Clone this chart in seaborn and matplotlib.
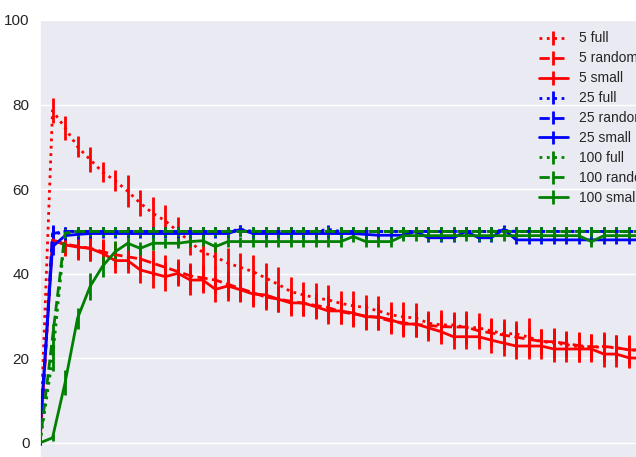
import matplotlib
matplotlib.use('Agg')
import matplotlib.pyplot as plt
import seaborn as sns

# x positions (steps)
steps = list(range(49))

# 5 : red
full_5 = [0, 78.6, 74.5, 70.0, 67.0, 64.0, 62.0, 59.5, 56.7, 54.3, 52.5, 50.0, 47.5, 45.0, 44.0, 42.5,
          41.5, 40.5, 39.0, 37.5, 35.8, 35.0, 34.3, 33.8, 33.0, 32.4, 32.0, 31.2, 30.3, 29.8, 29.5, 28.3,
          27.9, 27.9, 27.3, 27.2, 26.5, 25.8, 25.8, 25.0, 24.0, 23.6, 23.2, 22.7, 22.7, 22.6, 22.5, 22.0, 21.8]
full_5_err = [0, 3.0, 2.9, 2.5, 2.9, 2.4, 2.5, 3.8, 3.0, 3.8, 3.8, 3.5, 3.0, 3.5, 3.0, 3.5,
              3.5, 4.0, 3.5, 4.0, 3.5, 3.0, 3.5, 3.5, 3.0, 3.5, 3.0, 3.5, 3.0, 3.5, 3.5, 3.0,
              3.5, 3.0, 4.0, 3.5, 3.0, 3.5, 3.0, 4.5, 3.0, 3.5, 3.0, 3.5, 3.0, 3.5, 3.0, 3.5, 3.0]
random_5 = [0, 48.0, 47.0, 46.5, 46.0, 45.2, 44.5, 44.0, 43.5, 42.5, 41.5, 40.5, 39.5, 39.0, 38.5, 37.5,
            36.5, 35.5, 34.5, 34.0, 33.5, 33.0, 32.5, 32.0, 31.0, 30.5, 30.0, 29.6, 28.8, 28.4, 28.0, 27.8,
            27.5, 27.4, 27.4, 26.5, 26.0, 25.5, 25.0, 24.5, 24.0, 23.9, 23.5, 23.0, 22.7, 22.8, 22.5, 22.0, 22.0]
random_5_err = [0, 2.5, 2.5, 3.0, 3.0, 3.0, 3.0, 3.0, 3.0, 3.0, 3.0, 3.0, 3.0, 3.0, 3.0, 3.0,
                3.0, 3.0, 3.0, 3.0, 3.0, 3.0, 3.0, 3.0, 3.0, 3.0, 3.0, 3.0, 3.0, 3.0, 3.0, 3.0,
                3.0, 3.0, 3.0, 3.0, 3.0, 3.0, 3.0, 3.0, 3.0, 3.0, 3.0, 3.0, 3.0, 3.0, 3.0, 3.0, 3.0]
small_5 = [0, 48.0, 46.8, 46.3, 46.0, 44.8, 43.1, 43.1, 40.9, 40.1, 39.3, 40.1, 38.5, 38.5, 36.3, 37.1,
           36.2, 35.2, 35.0, 34.0, 33.1, 33.1, 32.2, 31.2, 31.2, 30.7, 29.8, 29.8, 29.1, 28.1, 28.1, 27.2,
           26.3, 25.1, 25.1, 25.1, 24.3, 23.6, 22.9, 22.9, 22.9, 22.2, 22.2, 22.2, 22.2, 21.0, 21.0, 20.1, 20.0]
small_5_err = [0, 2.0, 2.5, 3.0, 3.0, 3.0, 3.0, 3.0, 3.2, 3.5, 3.5, 3.0, 3.5, 3.0, 3.0, 3.5,
               3.0, 3.0, 3.0, 3.0, 3.0, 3.0, 3.0, 3.0, 3.0, 3.0, 3.0, 3.0, 3.0, 3.0, 3.0, 3.0,
               3.0, 3.0, 3.0, 3.0, 3.0, 3.0, 3.0, 3.0, 3.0, 3.0, 3.0, 3.0, 3.0, 3.0, 3.0, 2.5, 2.5]

# 25 : blue
full_25 = [0, 49.2, 50.0, 50.0, 50.0, 50.0, 50.0, 50.0, 50.0, 50.0, 50.0, 50.0, 50.0, 50.0, 50.0, 50.0,
           50.5, 50.0, 50.0, 50.0, 50.0, 50.0, 50.0, 50.5, 50.0, 50.0, 50.0, 50.0, 50.0, 50.0, 50.0, 50.0,
           50.0, 50.0, 50.0, 50.0, 50.0, 50.3, 50.0, 50.0, 50.0, 50.0, 50.0, 50.0, 50.0, 50.0, 50.0, 50.0, 50.0]
random_25 = [0, 49.5, 50.0, 50.0, 50.0, 50.0, 50.0, 50.0, 50.0, 50.0, 50.0, 50.0, 50.0, 50.0, 50.0, 50.0,
             50.0, 50.0, 50.0, 50.0, 50.0, 50.0, 50.0, 50.0, 50.0, 50.0, 50.0, 50.0, 50.0, 50.0, 50.0, 50.0,
             50.0, 50.0, 50.0, 50.0, 50.0, 50.0, 50.0, 50.0, 50.0, 50.0, 50.0, 50.0, 50.0, 50.0, 50.0, 50.0, 50.0]
small_25 = [3.0, 46.4, 49.0, 49.3, 49.5, 49.5, 49.5, 49.5, 49.5, 49.5, 49.5, 49.5, 49.5, 49.5, 49.5, 49.5,
            50.5, 49.5, 49.5, 49.5, 49.5, 49.5, 49.5, 49.5, 49.5, 49.5, 49.3, 49.1, 49.1, 49.1, 50.0, 48.5,
            48.5, 48.5, 50.0, 48.5, 48.5, 50.5, 48.0, 48.0, 48.0, 48.0, 48.0, 48.0, 48.0, 48.0, 48.0, 48.0, 48.0]
err_25 = [0.5, 2.0, 1.0, 1.0, 1.0, 1.0, 1.0, 1.0, 1.0, 1.0, 1.0, 1.0, 1.0, 1.0, 1.0, 1.0,
          1.0, 1.0, 1.0, 1.0, 1.0, 1.0, 1.0, 1.0, 1.0, 1.0, 1.0, 1.0, 1.0, 1.0, 1.0, 1.0,
          1.0, 1.0, 1.0, 1.0, 1.0, 1.0, 1.0, 1.0, 1.0, 1.0, 1.0, 1.0, 1.0, 1.0, 1.0, 1.0, 1.0]

# 100 : green
full_100 = [0, 20.0, 49.5, 50.0, 50.0, 50.0, 50.0, 50.0, 50.0, 50.0, 50.0, 50.0, 50.0, 50.0, 50.0, 50.0,
            50.0, 50.0, 50.0, 50.0, 50.0, 50.0, 50.0, 50.0, 50.0, 50.0, 50.0, 50.0, 50.0, 50.0, 50.0, 50.0,
            50.0, 50.0, 50.0, 50.0, 50.0, 50.0, 50.0, 50.0, 50.0, 50.0, 50.0, 50.0, 50.0, 50.0, 50.0, 50.0, 50.0]
random_100 = [0, 25.0, 49.6, 50.0, 50.0, 50.0, 50.0, 50.0, 50.0, 50.0, 50.0, 50.0, 50.0, 50.0, 50.0, 50.0,
              50.0, 50.0, 50.0, 50.0, 50.0, 50.0, 50.0, 50.0, 50.0, 50.0, 50.0, 50.0, 50.0, 50.0, 50.0, 50.0,
              50.0, 50.0, 50.0, 50.0, 50.0, 50.0, 50.0, 50.0, 50.0, 50.0, 50.0, 50.0, 50.0, 50.0, 50.0, 50.0, 50.0]
small_100 = [0, 1.2, 14.2, 29.5, 37.0, 41.8, 45.2, 47.2, 46.0, 47.2, 47.2, 47.2, 47.6, 47.8, 46.4, 47.6,
             47.6, 47.6, 47.6, 47.6, 47.6, 47.6, 47.6, 47.6, 47.6, 48.8, 47.6, 47.6, 47.6, 49.0, 49.0, 49.0,
             49.0, 49.0, 49.0, 49.0, 49.0, 49.0, 49.0, 49.0, 49.0, 49.0, 49.0, 49.0, 47.6, 49.0, 49.0, 49.0, 49.0]
err_100_start = [0, 3.0, 1.0, 1.0, 1.0, 1.0, 1.0, 1.0, 1.0, 1.0, 1.0, 1.0, 1.0, 1.0, 1.0, 1.0,
                 1.0, 1.0, 1.0, 1.0, 1.0, 1.0, 1.0, 1.0, 1.0, 1.0, 1.0, 1.0, 1.0, 1.0, 1.0, 1.0,
                 1.0, 1.0, 1.0, 1.0, 1.0, 1.0, 1.0, 1.0, 1.0, 1.0, 1.0, 1.0, 1.0, 1.0, 1.0, 1.0, 1.0]
small_100_err = [0, 0.8, 3.0, 2.5, 3.2, 2.5, 2.5, 1.5, 1.5, 1.5, 1.2, 1.2, 1.2, 1.2, 1.2, 1.2,
                 1.2, 1.2, 1.2, 1.2, 1.2, 1.2, 1.2, 1.2, 1.2, 1.2, 1.2, 1.2, 1.2, 1.2, 1.2, 1.2,
                 1.2, 1.2, 1.2, 1.2, 1.2, 1.2, 1.2, 1.2, 1.2, 1.2, 1.2, 1.2, 1.2, 1.2, 1.2, 1.2, 1.2]

series = [
    ('5 full', full_5, full_5_err, 'red', ':'),
    ('5 random', random_5, random_5_err, 'red', '--'),
    ('5 small', small_5, small_5_err, 'red', '-'),
    ('25 full', full_25, err_25, 'blue', ':'),
    ('25 random', random_25, err_25, 'blue', '--'),
    ('25 small', small_25, err_25, 'blue', '-'),
    ('100 full', full_100, err_100_start, 'green', ':'),
    ('100 random', random_100, err_100_start, 'green', '--'),
    ('100 small', small_100, small_100_err, 'green', '-'),
]

sns.set_theme(style='darkgrid')
plt.rcParams['font.family'] = ['Liberation Sans', 'DejaVu Sans']

fig = plt.figure(figsize=(6.36, 4.57), dpi=100)
# axes runs past the right and bottom edges, like the cropped original
ax = fig.add_axes([40 / 636, -7 / 457, 614 / 636, 444 / 457])

for label, vals, errs, color, ls in series:
    ax.errorbar(steps, vals, yerr=errs, color=color, linestyle=ls, linewidth=2,
                elinewidth=2, capsize=0, label=label)

ax.set_xlim(0, 49)
ax.set_ylim(-5, 100)
ax.set_yticks([0, 20, 40, 60, 80, 100])
ax.set_xticks([])
ax.xaxis.grid(False)
ax.tick_params(axis='y', labelsize=11, pad=1.5, colors='.15')

ax.legend(loc='upper left', bbox_to_anchor=(526 / 636, 1 - 19 / 457),
          bbox_transform=fig.transFigure, frameon=False, fontsize=10,
          labelspacing=0.43, handlelength=2.1, handletextpad=0.85)

fig.savefig('out.png', dpi=100)
